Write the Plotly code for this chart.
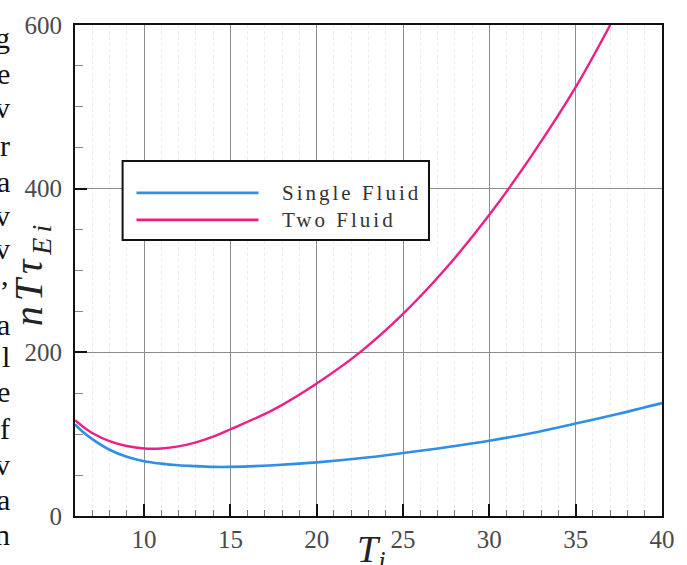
import plotly.graph_objects as go

# Ion temperature T_i
t_single = [6, 6.5, 7, 8, 9, 10, 11, 12, 13, 14, 15, 17.5, 20, 22.5, 25, 27.5, 30, 32.5, 35, 37.5, 40]
single_fluid = [112, 102, 94, 81, 72.5, 67, 64, 62, 61, 60, 60, 62, 65.5, 70.5, 77, 84, 92, 101.5, 113, 125, 138]

t_two = [6, 6.5, 7, 8, 9, 10, 11, 12, 13, 14, 15, 17.5, 20, 22.5, 25, 27.5, 30, 32.5, 35, 37.0]
two_fluid = [117, 108.5, 101.5, 91.5, 85.5, 82.5, 82.5, 85, 90, 97, 106, 130, 162, 200, 247, 303, 368, 442, 524, 600]

x_ticks = [10, 15, 20, 25, 30, 35, 40]
y_ticks = [0, 200, 400, 600]

series_names = ["Single Fluid", "Two Fluid"]
series_colors = ["#2f8fe6", "#ec1f86"]

# fragments of the neighbouring text column
side_text = ["g", "e", "v", "r", "a", "v", "v", ",\u2019", "a", "l", "e", "f", "v", "a", "n"]
side_text_y = [28, 65, 101, 140, 177, 213, 247, 290, 325, 359, 395, 433, 471, 507, 543]

W, H = 687, 565
L, R, T, B = 75, 667, 15, 524


def px(x):
    return (x - L) / (R - L)


def py(y):
    return (B - y) / (B - T)


serif = "Times New Roman, Liberation Serif, Tinos, serif"

fig = go.Figure()
fig.add_trace(go.Scatter(x=t_single, y=single_fluid, mode="lines", name=series_names[0],
                         line=dict(color=series_colors[0], width=2.6, shape="spline", smoothing=1)))
fig.add_trace(go.Scatter(x=t_two, y=two_fluid, mode="lines", name=series_names[1],
                         line=dict(color=series_colors[1], width=2.4, shape="spline", smoothing=1)))

axis_common = dict(
    showline=True, linecolor="#111", linewidth=2, mirror=True,
    ticks="inside", tickcolor="#111", tickwidth=2, ticklen=12,
    showgrid=True, gridcolor="#8c8c8c", gridwidth=1,
    zeroline=False,
    tickfont=dict(family=serif, size=25, color="#4a4a4a"),
)

fig.update_xaxes(
    range=[6, 40], tickvals=x_ticks, **axis_common,
    minor=dict(dtick=1, ticks="inside", ticklen=6, tickcolor="#777", tickwidth=1,
               showgrid=True, gridcolor="#ececec", griddash="dot", gridwidth=1),
)
fig.update_yaxes(
    range=[0, 600], tickvals=y_ticks, ticklabelstandoff=6, **axis_common,
    minor=dict(dtick=50, ticks="inside", ticklen=8, tickcolor="#888", tickwidth=1, showgrid=False),
)

shapes = []
annotations = []

# legend box
shapes.append(dict(type="rect", xref="paper", yref="paper",
                   x0=px(123), x1=px(432), y0=py(238), y1=py(156),
                   fillcolor="white", line=dict(color="#111", width=2), layer="above"))
for name, color, yy in zip(series_names, series_colors, [189, 217]):
    shapes.append(dict(type="line", xref="paper", yref="paper",
                       x0=px(137), x1=px(260), y0=py(yy), y1=py(yy),
                       line=dict(color=color, width=2.6), layer="above"))
    annotations.append(dict(xref="paper", yref="paper", x=px(282), y=py(yy),
                            xanchor="left", yanchor="middle", showarrow=False,
                            text=f'<span style="letter-spacing:3px">{name}</span>',
                            font=dict(family=serif, size=21, color="#333")))

# axis titles
annotations.append(dict(xref="paper", yref="paper", x=px(31), y=py(272),
                        xanchor="center", yanchor="middle", showarrow=False, textangle=-90,
                        text='<span style="letter-spacing:5px"><i>nT\u03c4<sub>Ei</sub></i></span>',
                        font=dict(family=serif, size=40, color="#222")))
annotations.append(dict(xref="paper", yref="paper", x=px(374), y=py(534),
                        xanchor="center", yanchor="top", showarrow=False,
                        text="<i>T<sub>i</sub></i>",
                        font=dict(family=serif, size=38, color="#222")))

for s, yy in zip(side_text, side_text_y):
    annotations.append(dict(xref="paper", yref="paper", x=px(11), y=py(yy),
                            xanchor="right", yanchor="middle", showarrow=False,
                            text=s, font=dict(family=serif, size=30, color="#111")))

fig.update_layout(
    width=W, height=H, autosize=False,
    margin=dict(l=L, r=W - R, t=T, b=H - B),
    paper_bgcolor="white", plot_bgcolor="white",
    showlegend=False,
    shapes=shapes, annotations=annotations,
)

fig.write_html("out.html")
